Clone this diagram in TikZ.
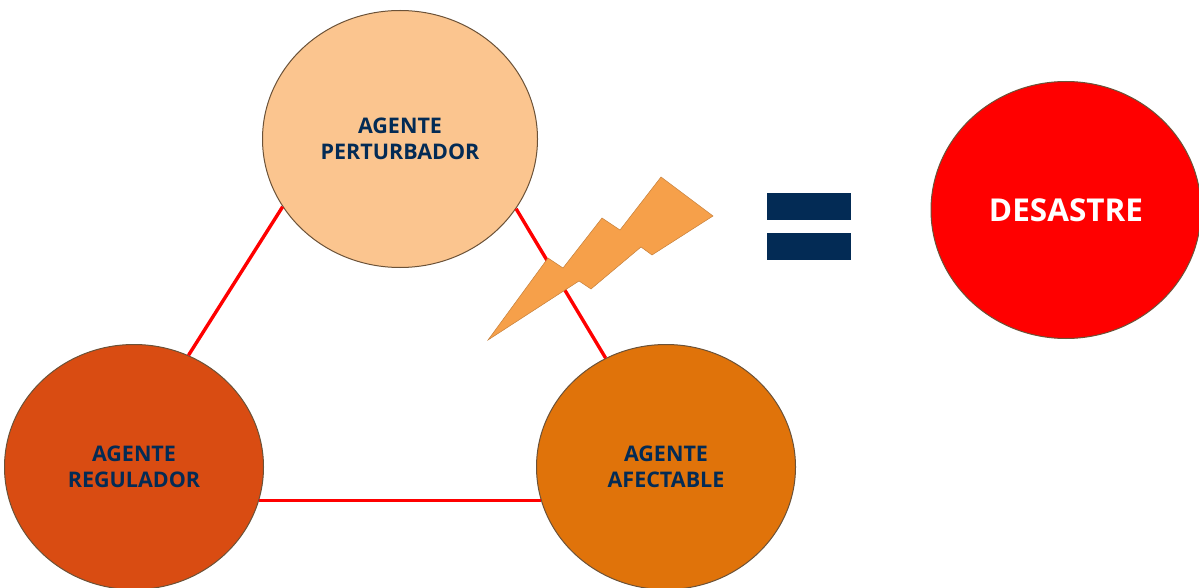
\documentclass[tikz,border=0pt]{standalone}
\usepackage{fontspec}
\usetikzlibrary{shapes.geometric}
\setmainfont{Open Sans}
\definecolor{perturbfill}{HTML}{FBC58F}
\definecolor{regulafill}{HTML}{D94C12}
\definecolor{afectafill}{HTML}{E0730A}
\definecolor{navytext}{HTML}{032B55}
\definecolor{boltfill}{HTML}{F6A04A}
\definecolor{rimcolor}{HTML}{6B5238}
\begin{document}
\begin{tikzpicture}[x=1pt,y=-1pt,
    agente/.style ={ellipse, draw=rimcolor, line width=1pt, inner sep=0pt, text=navytext, font=\bfseries\fontsize{21.5}{26.5}\selectfont, align=center},
    enlace/.style ={draw=red, line width=3.4pt}]
   \useasboundingbox (0,0) rectangle (1199,588);
   \node[agente, minimum width=275pt, minimum height=257pt, fill=perturbfill] (P) at (400,139) {AGENTE\\PERTURBADOR};
   \node[agente, minimum width=259pt, minimum height=245pt, fill=regulafill] (R) at (134,467) {AGENTE\\REGULADOR};
   \node[agente, minimum width=259pt, minimum height=245pt, fill=afectafill] (A) at (666,467) {AGENTE\\AFECTABLE};
   \node[agente, minimum width=270pt, minimum height=257pt, fill=red, text=white, font=\bfseries\fontsize{31.5}{36}\selectfont] (D) at (1066,210) {DESASTRE};

   \draw[enlace] (P.210) to (R.64);
   \draw[enlace] (P.-31) to (A.119);
   \draw[enlace] (R.-15) to (A.195);

   \filldraw[fill=boltfill, draw=boltfill!80!black, line width=0.5pt] (488,340) -- (548,258) -- (563,268) -- (602,218) -- (620,230) -- (661,177) -- (713,216) -- (652,255) -- (641,247) -- (591,289) -- (579,281) -- cycle;
   \fill[navytext] (767,193) rectangle (851,220);
   \fill[navytext] (767,233) rectangle (851,260);
 \end{tikzpicture}
\end{document}
